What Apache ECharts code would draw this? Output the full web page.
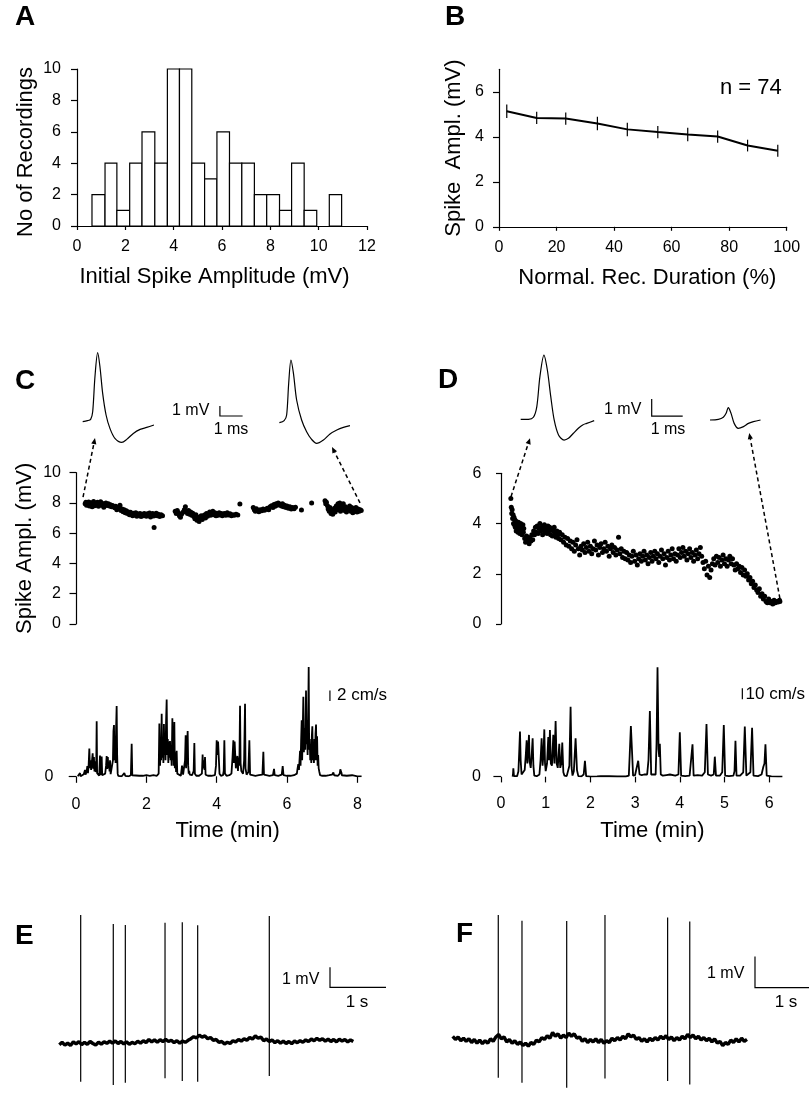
<!DOCTYPE html>
<html>
<head>
<meta charset="utf-8">
<title>Spike amplitude over recording time</title>
<script src="https://cdn.jsdelivr.net/npm/echarts@6.0.0/dist/echarts.min.js"></script>
<style>
html,body{margin:0;padding:0;background:#fff;}
#chart{width:812px;height:1109px;}
</style>
</head>
<body>
<div id="chart"></div>
<script>
const FONT = '"Liberation Sans", Arial, Helvetica, sans-serif';

// A - histogram of initial spike amplitude (bin edges in mV, counts)
const histEdges = [0.62,1.16,1.65,2.18,2.69,3.22,3.74,4.24,4.75,5.28,5.79,6.31,6.82,7.34,7.85,8.38,8.88,9.40,9.92,10.44,10.95];
const histCounts = [2,4,1,4,6,4,10,10,4,3,6,4,4,2,2,1,4,1,0,2];
const histXTicks = [0,2,4,6,8,10,12];
const histYTicks = [0,2,4,6,8,10];

// B - mean spike amplitude vs normalised recording duration
const durPct = [2.7,13.1,23.2,34.2,44.6,55.2,65.6,76.0,86.4,96.9];
const ampMean = [5.14,4.84,4.81,4.59,4.33,4.21,4.10,4.01,3.61,3.38];
const ampErr = [0.30,0.27,0.27,0.30,0.30,0.27,0.30,0.27,0.26,0.27];
const durTicks = [0,20,40,60,80,100];
const ampTicks = [0,2,4,6];

// C - waveforms (ms, mV)
const cSpikeEarly = [[0,0],[0.21,0.1],[0.35,0.23],[0.44,1.0],[0.54,4.5],[0.66,6.9],[0.76,5.5],[0.88,2.83],[1.03,0.67],[1.2,-0.67],[1.42,-1.67],[1.72,-2.07],[1.94,-1.77],[2.23,-1.17],[2.53,-0.77],[2.82,-0.57],[3.14,-0.33]];
const cSpikeLate = [[0,0],[0.21,0.2],[0.32,0.77],[0.41,3.93],[0.51,6.27],[0.62,4.93],[0.76,2.27],[0.98,0.27],[1.2,-0.9],[1.42,-1.67],[1.64,-2.07],[1.94,-1.73],[2.23,-1.13],[2.53,-0.73],[2.82,-0.47],[3.11,-0.3]];

// C - spike amplitude over time (min, mV)
const cAmp = [
[0.26,7.95],[0.28,8.05],[0.30,7.85],[0.32,7.98],[0.34,7.9],[0.36,8.06],[0.38,7.8],[0.40,7.95],[0.42,8.02],[0.44,7.88],[0.46,7.75],[0.48,7.93],[0.50,8.1],[0.53,7.82],[0.56,7.96],[0.58,7.87],[0.61,8.05],[0.64,7.78],[0.67,7.92],[0.70,8.08],[0.73,7.85],[0.76,7.97],[0.79,7.72],[0.82,7.9],[0.85,8.0],[0.88,7.83],[0.92,7.94],[0.95,7.8],[0.98,7.88],[1.01,7.75],[1.04,7.84],
[1.10,7.68],[1.13,7.78],[1.16,7.55],[1.19,7.7],[1.22,7.62],[1.25,7.85],[1.28,7.5],[1.31,7.6],[1.34,7.42],[1.37,7.55],[1.40,7.35],[1.43,7.48],[1.46,7.3],[1.49,7.4],[1.52,7.22],[1.55,7.38],[1.58,7.28],[1.61,7.15],[1.64,7.32],[1.67,7.2],[1.70,7.35],[1.73,7.12],[1.76,7.27],[1.79,7.18],[1.82,7.3],[1.85,7.1],[1.88,7.25],[1.91,7.16],[1.94,7.3],[1.97,7.2],[2.0,7.12],[2.03,7.28],[2.06,7.18],[2.09,7.34],[2.12,7.08],[2.15,7.22],[2.18,7.3],[2.21,7.14],[2.22,6.37],[2.25,7.2],[2.28,7.32],[2.31,7.15],[2.34,7.25],[2.38,7.1],[2.42,7.22],[2.46,7.15],
[2.82,7.45],[2.85,7.3],[2.88,7.5],[2.91,7.35],[2.94,7.15],[2.97,7.05],[3.0,7.25],[3.04,7.38],[3.08,7.55],[3.11,7.75],[3.14,7.45],[3.17,7.3],[3.2,7.5],[3.23,7.25],[3.26,7.4],[3.29,7.18],[3.32,7.32],[3.35,7.1],[3.38,6.95],[3.41,7.22],[3.44,6.85],[3.47,7.05],[3.5,6.78],[3.53,7.0],[3.56,7.15],[3.59,6.9],[3.62,7.08],[3.65,7.2],[3.68,7.0],[3.71,7.3],[3.74,7.12],[3.77,7.25],[3.8,7.4],[3.83,7.18],[3.86,7.3],[3.89,7.45],[3.92,7.22],[3.95,7.35],[3.98,7.15],[4.01,7.28],[4.04,7.18],[4.07,7.35],[4.1,7.22],[4.13,7.3],[4.16,7.15],[4.19,7.25],[4.22,7.3],[4.26,7.18],[4.3,7.35],[4.34,7.2],[4.38,7.28],[4.42,7.15],[4.46,7.22],[4.5,7.18],[4.55,7.25],[4.6,7.2],
[4.66,7.93],
[5.04,7.7],[5.07,7.55],[5.1,7.45],[5.13,7.62],[5.16,7.5],[5.2,7.42],[5.24,7.55],[5.28,7.48],[5.32,7.6],[5.36,7.52],[5.4,7.58],[5.44,7.65],[5.48,7.55],[5.52,7.75],[5.56,7.82],[5.6,7.7],[5.63,7.9],[5.66,7.78],[5.69,7.95],[5.72,7.85],[5.75,8.0],[5.78,7.88],[5.81,7.92],[5.84,7.8],[5.87,7.95],[5.9,7.75],[5.93,7.85],[5.97,7.7],[6.0,7.8],[6.04,7.65],[6.08,7.75],[6.12,7.6],[6.16,7.7],[6.2,7.62],[6.24,7.72],
[6.41,7.53],[6.70,8.0],
[7.08,8.15],[7.1,7.95],[7.12,8.05],[7.15,7.82],[7.17,7.6],[7.2,7.45],[7.22,7.7],[7.25,7.3],[7.27,7.55],[7.3,7.25],[7.32,7.5],[7.35,7.65],[7.37,7.4],[7.4,7.8],[7.42,7.55],[7.45,7.95],[7.47,7.7],[7.5,8.0],[7.52,7.45],[7.55,7.85],[7.57,7.6],[7.6,7.95],[7.63,7.5],[7.66,7.75],[7.69,7.4],[7.72,7.65],[7.75,7.55],[7.78,7.8],[7.81,7.45],[7.84,7.7],[7.87,7.35],[7.9,7.6],[7.93,7.5],[7.96,7.7],[7.99,7.4],[8.02,7.6],[8.05,7.45],[8.08,7.55],[8.11,7.5]
];
const cAmpTicks = [0,2,4,6,8,10];
// dashed arrows: from point to waveform [t0, mV0, t1, mV1]
const cArrows = [[0.2,8.39,0.54,12.29],[8.075,8.0,7.28,11.7]];

// C - running speed (min, cm/s)
const cSpeed = [
[0.05,0],[0.10,0.1],[0.114,0.6],[0.13,0],[0.18,0.1],[0.22,0.4],[0.24,0.2],[0.256,1.2],[0.27,0.3],[0.30,0.8],[0.322,1.9],[0.34,0.6],[0.36,2.2],[0.379,5.2],[0.395,1.5],[0.41,3.0],[0.43,1.2],[0.45,2.6],[0.474,4.3],[0.49,1.4],[0.51,3.6],[0.525,0.9],[0.545,2.8],[0.56,0.8],[0.575,1.5],[0.588,10.3],[0.60,0.6],[0.63,0.3],[0.66,0.1],[0.682,3.9],[0.70,0.2],[0.715,0.1],[0.73,3.7],[0.745,0.2],[0.79,0.1],[0.83,0.5],[0.855,2.0],[0.872,3.8],[0.89,1.4],[0.905,3.6],[0.92,1.6],[0.94,2.2],[0.955,0.9],[0.967,3.0],[0.985,0.4],[1.0,0.1],[1.03,0.3],[1.05,3.0],[1.065,8.5],[1.08,9.6],[1.095,3.0],[1.11,7.5],[1.125,2.5],[1.14,9.0],[1.156,13.2],[1.17,4.0],[1.185,0.5],[1.2,0.1],[1.3,0.0],[1.35,0.2],[1.374,0.6],[1.40,0.1],[1.5,0],[1.56,0.2],[1.583,6.1],[1.60,0.2],[1.65,0.1],[1.8,0.1],[1.85,0.3],[1.9,0.1],[2.0,0.2],[2.1,0.1],[2.2,0.2],[2.3,0.1],[2.35,0.5],[2.37,9.9],[2.39,2.0],[2.405,5.5],[2.42,3.0],[2.436,11.75],[2.45,3.5],[2.47,6.0],[2.485,2.5],[2.50,9.8],[2.515,4.0],[2.53,7.5],[2.545,3.0],[2.56,10.0],[2.578,14.4],[2.595,4.0],[2.61,7.0],[2.625,2.5],[2.64,6.5],[2.655,3.5],[2.673,6.6],[2.69,3.0],[2.705,5.0],[2.72,2.0],[2.74,10.9],[2.755,3.0],[2.77,6.5],[2.78,2.0],[2.796,10.2],[2.81,1.5],[2.83,4.5],[2.845,0.8],[2.862,4.8],[2.88,0.5],[2.92,0.2],[2.98,0.1],[3.0,0.3],[3.015,2.0],[3.03,1.9],[3.045,0.3],[3.08,0.5],[3.10,3.0],[3.118,7.7],[3.13,1.5],[3.15,4.0],[3.175,8.5],[3.19,2.0],[3.205,0.5],[3.22,1.0],[3.235,0.3],[3.30,0.2],[3.345,1.0],[3.365,6.25],[3.38,0.5],[3.42,0.1],[3.5,0.1],[3.58,0.5],[3.60,4.1],[3.615,1.5],[3.635,3.0],[3.655,1.2],[3.668,3.6],[3.685,0.3],[3.75,0.1],[3.85,0.1],[3.95,0.2],[3.98,2.0],[4.0,6.75],[4.02,4.0],[4.04,6.5],[4.066,6.6],[4.08,0.5],[4.12,0.1],[4.18,0.2],[4.2,1.0],[4.218,6.75],[4.235,0.5],[4.28,0.1],[4.36,0.2],[4.42,0.5],[4.45,3.5],[4.474,6.75],[4.49,2.5],[4.51,6.5],[4.53,6.7],[4.545,1.5],[4.565,3.0],[4.588,3.8],[4.605,1.0],[4.625,3.5],[4.645,2.0],[4.664,13.25],[4.68,2.5],[4.70,1.0],[4.72,0.8],[4.75,0.5],[4.78,3.0],[4.806,13.6],[4.82,1.5],[4.85,0.3],[4.90,0.8],[4.929,6.75],[4.95,0.3],[5.0,0.1],[5.1,0.1],[5.2,0.2],[5.3,0.3],[5.327,4.6],[5.345,0.3],[5.4,0.1],[5.5,0.1],[5.6,0.2],[5.63,1.4],[5.65,0.2],[5.75,0.1],[5.85,0.3],[5.877,1.9],[5.9,0.2],[6.0,0.1],[6.1,0.1],[6.2,0.2],[6.28,0.5],[6.3,1.5],[6.32,2.3],[6.34,1.2],[6.37,4.8],[6.385,2.0],[6.40,6.5],[6.417,10.5],[6.43,3.0],[6.445,8.0],[6.464,14.9],[6.48,4.5],[6.5,9.0],[6.52,5.0],[6.54,16.1],[6.555,6.0],[6.57,10.5],[6.585,4.0],[6.6,10.0],[6.616,20.5],[6.63,5.0],[6.645,7.0],[6.66,3.0],[6.675,6.0],[6.69,2.5],[6.705,7.5],[6.72,9.4],[6.735,3.0],[6.75,6.0],[6.765,2.5],[6.78,7.0],[6.795,3.0],[6.81,8.0],[6.825,9.7],[6.84,3.0],[6.855,7.5],[6.87,2.0],[6.885,4.0],[6.90,1.5],[6.92,0.8],[6.94,0.2],[7.0,0.1],[7.1,0.1],[7.2,0.2],[7.28,0.3],[7.3,0.6],[7.318,0.7],[7.34,0.2],[7.45,0.1],[7.5,0.5],[7.515,1.3],[7.53,1.2],[7.55,0.6],[7.56,0.2],[7.7,0.1],[7.85,0.2],[7.867,0.4],[7.88,0.1],[8.0,0.0],[8.12,0.0]
];
const cTimeTicks = [0,2,4,6,8];

// D - waveforms (ms, mV)
const dSpikeEarly = [[0,0],[0.25,0],[0.41,0.12],[0.52,0.75],[0.62,2.51],[0.75,3.78],[0.86,2.9],[0.97,1.33],[1.08,-0.04],[1.22,-0.92],[1.40,-1.22],[1.54,-1.12],[1.70,-0.82],[1.86,-0.53],[2.0,-0.33],[2.13,-0.24],[2.37,-0.08]];
const dSpikeLate = [[0,0],[0.27,0.04],[0.43,0.16],[0.52,0.39],[0.59,0.73],[0.68,0.39],[0.78,-0.2],[0.91,-0.49],[1.08,-0.39],[1.24,-0.2],[1.4,-0.1],[1.63,0]];

// D - spike amplitude over time (min, mV)
const dAmp = [
[0.22,5.0],[0.23,4.65],[0.24,4.4],[0.25,4.55],[0.26,4.2],[0.27,4.35],[0.28,4.0],[0.29,4.25],[0.30,3.95],[0.31,4.15],[0.32,3.85],[0.33,4.1],[0.34,3.7],[0.35,4.0],[0.36,3.8],[0.37,3.95],[0.38,3.65],[0.39,4.05],[0.40,3.75],[0.41,3.9],[0.42,3.6],[0.43,3.8],[0.44,4.0],[0.45,3.7],[0.46,3.85],[0.47,3.55],[0.48,3.75],[0.49,3.95],[0.50,3.65],[0.51,3.8],
[0.53,3.4],[0.55,3.25],[0.57,3.5],[0.59,3.3],[0.61,3.45],[0.63,3.2],[0.65,3.4],[0.67,3.3],[0.69,3.55],[0.71,3.35],
[0.73,3.7],[0.75,3.55],[0.77,3.85],[0.79,3.65],[0.81,3.9],[0.83,3.6],[0.85,3.8],[0.87,4.0],[0.89,3.7],[0.91,3.85],[0.93,3.55],[0.95,3.75],[0.97,3.95],[0.99,3.65],[1.01,3.8],[1.03,3.6],[1.05,3.9],[1.07,3.7],[1.09,3.85],[1.11,3.55],[1.13,3.75],[1.15,3.5],[1.17,3.7],[1.19,3.85],[1.21,3.6],[1.23,3.45],[1.25,3.7],[1.27,3.55],[1.29,3.4],[1.31,3.65],
[1.34,3.35],[1.37,3.55],[1.40,3.25],[1.43,3.45],[1.46,3.15],[1.49,3.4],[1.52,3.1],[1.55,3.3],[1.58,3.0],[1.61,3.25],[1.64,2.9],[1.67,3.15],[1.70,3.35],[1.73,3.0],[1.76,2.75],[1.79,3.1],[1.82,2.95],[1.85,3.2],[1.88,2.85],[1.91,3.05],
[1.94,3.25],[1.97,2.9],[2.0,3.1],[2.03,2.8],[2.06,3.0],[2.09,3.3],[2.12,2.95],[2.15,3.15],[2.18,2.75],[2.21,3.05],[2.24,3.2],[2.27,2.85],[2.30,3.0],[2.33,3.25],[2.36,2.9],[2.39,3.1],[2.42,2.7],[2.45,3.0],[2.48,3.15],[2.51,2.85],[2.54,3.05],[2.57,2.75],[2.60,2.95],[2.63,3.45],[2.66,2.8],[2.69,3.0],[2.72,2.65],[2.75,2.9],[2.78,2.6],
[2.81,2.85],[2.84,2.55],[2.87,2.75],[2.90,2.45],[2.93,2.7],[2.96,2.9],[2.99,2.5],[3.02,2.75],[3.05,2.35],[3.08,2.6],[3.11,2.8],[3.14,2.5],[3.17,2.7],[3.20,2.9],[3.23,2.55],[3.26,2.75],[3.29,2.4],[3.32,2.65],[3.35,2.85],[3.38,2.5],[3.41,2.7],[3.44,2.9],[3.47,2.6],[3.50,2.8],[3.53,2.45],[3.56,2.7],[3.59,2.95],[3.62,2.6],[3.65,2.8],[3.68,2.35],[3.71,2.65],[3.74,2.9],[3.77,2.55],[3.80,2.75],[3.83,3.0],[3.86,2.6],[3.89,2.8],[3.92,2.5],
[3.95,2.75],[3.98,3.0],[4.01,2.65],[4.04,2.85],[4.07,3.05],[4.10,2.7],[4.13,2.9],[4.16,2.55],[4.19,2.8],[4.22,3.0],[4.25,2.65],[4.28,2.85],[4.31,2.5],[4.34,2.75],[4.37,2.95],[4.40,2.6],[4.43,2.8],[4.46,3.05],[4.49,2.7],
[4.52,2.45],[4.55,2.2],[4.58,2.5],[4.61,1.95],[4.64,2.3],[4.67,1.85],[4.70,2.15],[4.73,2.4],
[4.76,2.6],[4.79,2.35],[4.82,2.7],[4.85,2.45],[4.88,2.65],[4.91,2.3],[4.94,2.55],[4.97,2.75],[5.0,2.4],[5.03,2.6],[5.06,2.3],[5.09,2.55],[5.12,2.7],[5.15,2.4],[5.18,2.6],
[5.21,2.35],[5.24,2.15],[5.27,2.4],[5.30,2.2],[5.33,2.3],[5.36,2.05],[5.39,2.25],[5.42,1.95],[5.45,2.15],[5.48,1.9],
[5.51,2.0],[5.54,1.75],[5.57,1.85],[5.60,1.6],[5.63,1.7],[5.66,1.45],[5.69,1.55],[5.72,1.35],[5.75,1.25],[5.78,1.4],
[5.81,1.1],[5.84,1.2],[5.87,1.0],[5.90,1.1],[5.93,0.9],[5.96,0.85],[5.99,1.0],[6.02,0.85],[6.05,0.9],[6.08,0.8],[6.11,0.95],[6.14,0.85],[6.17,0.9],[6.20,0.88],[6.23,0.95],[6.24,0.9]
];
const dAmpTicks = [0,2,4,6];
const dArrows = [[0.224,5.07,0.649,7.4],[6.24,1.02,5.555,7.6]];

// D - running speed (min, cm/s)
const dSpeed = [
[0.26,0],[0.268,2],[0.276,7.6],[0.29,0.5],[0.36,0.5],[0.39,5],[0.41,25],[0.425,41],[0.44,15],[0.46,2],[0.50,1],[0.53,6],[0.555,20],[0.574,33],[0.59,12],[0.61,25],[0.626,38],[0.64,14],[0.665,8],[0.69,22],[0.708,35],[0.725,10],[0.745,1],[0.80,0.5],[0.86,2],[0.885,15],[0.909,35],[0.93,10],[0.95,20],[0.969,43],[0.985,12],[1.0,5],[1.03,12],[1.058,36],[1.075,15],[1.095,42.4],[1.115,12],[1.14,10],[1.17,38],[1.195,12],[1.222,50.6],[1.245,12],[1.27,8],[1.304,30],[1.325,8],[1.35,12],[1.371,31],[1.395,4],[1.42,1],[1.47,0.5],[1.50,1],[1.53,10],[1.557,63.6],[1.58,8],[1.60,1],[1.63,5],[1.669,35],[1.70,6],[1.73,0.5],[1.80,0.3],[1.85,2],[1.878,14.5],[1.905,0.5],[2.0,0],[2.15,0.3],[2.23,0.5],[2.25,1.2],[2.27,0.3],[2.42,0.4],[2.437,1.2],[2.455,0.3],[2.6,0.2],[2.8,0.2],[2.86,1],[2.88,20],[2.906,46],[2.935,20],[2.955,1],[3.0,1.5],[3.04,2],[3.07,14.5],[3.10,2],[3.15,1.5],[3.2,2],[3.27,2],[3.30,15],[3.331,59.7],[3.36,2],[3.40,1],[3.46,2],[3.48,30],[3.502,99.4],[3.525,25],[3.54,18],[3.554,30],[3.575,2],[3.62,1],[3.7,1.5],[3.78,2],[3.82,1],[3.9,1],[3.97,2],[4.001,40.3],[4.03,1],[4.12,0.5],[4.22,1],[4.26,2],[4.285,29.4],[4.31,1],[4.4,1.5],[4.5,1],[4.56,4],[4.598,47.9],[4.63,2],[4.7,1],[4.76,2],[4.784,18.2],[4.81,1],[4.9,1],[4.95,4],[4.985,47],[5.015,1],[5.1,0.5],[5.2,1],[5.225,5],[5.246,32.7],[5.27,1],[5.35,1],[5.42,4],[5.455,45.5],[5.49,1],[5.58,4],[5.618,44.5],[5.65,1],[5.75,0.5],[5.83,2],[5.87,9],[5.895,12],[5.917,29.4],[5.945,1],[6.05,0.3],[6.2,0],[6.296,0]
];
const dTimeTicks = [0,1,2,3,4,5,6];

// E, F - raw extracellular traces, sampled every 0.05 s (mV)
const E_DT = 0.05;
const eTrace = [-0.10,0.02,-0.12,-0.02,-0.14,0.04,-0.06,0.05,-0.10,0.02,-0.08,0.06,-0.04,-0.12,0.03,-0.07,0.05,-0.03,0.08,-0.02,0.09,-0.04,0.06,-0.06,0.04,-0.08,0.02,-0.05,0.07,-0.02,0.10,0.01,0.16,0.04,0.14,0.02,0.15,0.05,0.17,0.06,0.12,0.00,0.10,-0.02,0.08,0.02,0.12,0.20,0.30,0.24,0.38,0.28,0.34,0.20,0.26,0.12,0.16,0.02,0.06,-0.06,0.02,-0.04,0.10,0.04,0.16,0.08,0.20,0.12,0.26,0.18,0.34,0.22,0.28,0.10,0.18,0.06,0.14,0.00,0.10,-0.02,0.08,-0.04,0.06,-0.05,0.08,0.00,0.10,0.02,0.14,0.06,0.18,0.10,0.22,0.12,0.20,0.08,0.18,0.06,0.16,0.04,0.18,0.08,0.16,0.04,0.14,0.06];
// spikes: [time s, peak mV, trough mV]
const eSpikes = [[0.382,6.39,-1.95],[0.964,5.94,-2.12],[1.179,5.89,-2.0],[1.888,6.0,-1.78],[2.196,6.02,-1.92],[2.471,5.87,-1.95],[3.75,6.34,-1.67]];

const F_DT = 0.05;
const fTrace = [0.12,0.02,0.10,-0.02,0.06,-0.04,0.04,-0.08,0.02,-0.10,0.00,-0.12,-0.02,-0.10,0.04,-0.04,0.10,0.18,0.04,0.10,-0.06,0.02,-0.10,-0.02,-0.14,-0.06,-0.18,-0.10,-0.20,-0.08,-0.14,0.00,-0.06,0.08,0.02,0.14,0.06,0.24,0.12,0.20,0.06,0.16,0.08,0.22,0.12,0.20,0.06,0.10,-0.04,0.04,-0.08,0.02,-0.06,0.04,-0.08,0.02,-0.10,-0.02,-0.08,0.06,-0.02,0.08,0.00,0.12,0.04,0.20,0.10,0.16,0.02,0.08,-0.04,0.04,-0.06,0.06,-0.02,0.08,0.00,0.12,0.04,0.14,0.02,0.10,-0.02,0.08,0.00,0.12,0.04,0.18,0.08,0.16,0.04,0.12,0.00,0.08,-0.02,0.06,-0.06,0.04,-0.10,-0.04,-0.18,-0.08,-0.14,0.00,-0.08,0.04,-0.06,0.06,-0.04,0.02];
const fSpikes = [[0.844,4.03,-1.22],[1.283,3.85,-1.38],[2.111,3.84,-1.54],[2.82,4.03,-1.24],[3.98,3.95,-1.32],[4.39,3.82,-1.43]];

const BLACK = '#000';

function axis(grid, min, max, o) {
  o = o || {};
  if (o.hidden) {
    return { type: 'value', gridIndex: grid, min: min, max: max, show: false, splitLine: { show: false } };
  }
  return {
    type: 'value', gridIndex: grid, min: min, max: max,
    offset: o.offset || 0,
    axisLine: { show: o.line !== false, lineStyle: { color: BLACK, width: 1.2 } },
    axisTick: { show: true, length: o.tick || 6, customValues: o.ticks, lineStyle: { color: BLACK, width: 1.2 } },
    axisLabel: { show: true, customValues: o.ticks, margin: o.margin, color: BLACK, fontSize: 16, fontFamily: FONT },
    splitLine: { show: false },
    name: o.name, nameLocation: 'middle', nameGap: o.nameGap,
    nameMoveOverlap: false,
    nameTextStyle: { color: BLACK, fontSize: 22, fontFamily: FONT, padding: o.namePad || 0 }
  };
}

function histRender(params, api) {
  const c = api.value(2);
  if (!c) return null;
  const p0 = api.coord([api.value(0), c]);
  const p1 = api.coord([api.value(1), 0]);
  return { type: 'rect', shape: { x: p0[0], y: p0[1], width: p1[0] - p0[0], height: p1[1] - p0[1] },
    style: { fill: '#fff', stroke: BLACK, lineWidth: 1.2 } };
}

function errRender(params, api) {
  const x = api.value(0), y = api.value(1), e = api.value(2);
  const a = api.coord([x, y - e]), b = api.coord([x, y + e]);
  return { type: 'line', shape: { x1: a[0], y1: a[1], x2: b[0], y2: b[1] }, style: { stroke: BLACK, lineWidth: 1.2 } };
}

// scale bar: [x, y, dx, dy] drawn as vertical then horizontal leg
function barRender(params, api) {
  const x = api.value(0), y = api.value(1), dx = api.value(2), dy = api.value(3);
  const pts = [api.coord([x, y + dy]), api.coord([x, y])];
  if (dx) pts.push(api.coord([x + dx, y]));
  return { type: 'polyline', shape: { points: pts }, style: { stroke: BLACK, lineWidth: 1.2, fill: null } };
}

function spikeRender(params, api) {
  const t = api.value(0);
  const a = api.coord([t, api.value(1)]), b = api.coord([t, api.value(2)]);
  return { type: 'line', shape: { x1: a[0], y1: a[1], x2: b[0], y2: b[1] }, style: { stroke: BLACK, lineWidth: 1.2 } };
}

function arrowRender(params, api) {
  const a = api.coord([api.value(0), api.value(1)]);
  const b = api.coord([api.value(2), api.value(3)]);
  const dx = b[0] - a[0], dy = b[1] - a[1], len = Math.hypot(dx, dy);
  const ux = dx / len, uy = dy / len;
  const head = 6, half = 2.6;
  const base = [b[0] - ux * head, b[1] - uy * head];
  return { type: 'group', children: [
    { type: 'line', shape: { x1: a[0], y1: a[1], x2: base[0], y2: base[1] }, style: { stroke: BLACK, lineWidth: 1.5, lineDash: [4, 3] } },
    { type: 'polygon', shape: { points: [b, [base[0] - uy * half, base[1] + ux * half], [base[0] + uy * half, base[1] - ux * half]] }, style: { fill: BLACK } }
  ] };
}

function wave(xi, pts, off, width) {
  return { type: 'line', xAxisIndex: xi, yAxisIndex: xi, data: pts.map(p => [p[0] + off[0], p[1] + off[1]]),
    symbol: 'none', smooth: 0.3, silent: true, lineStyle: { color: BLACK, width: width || 1.2 } };
}

function trace(xi, pts, width) {
  return { type: 'line', xAxisIndex: xi, yAxisIndex: xi, data: pts, symbol: 'none', silent: true,
    lineStyle: { color: BLACK, width: width } };
}

function dots(xi, pts) {
  return { type: 'scatter', xAxisIndex: xi, yAxisIndex: xi, data: pts, symbol: 'circle', symbolSize: 5, silent: true,
    itemStyle: { color: BLACK, opacity: 1, borderWidth: 0 } };
}

function custom(xi, data, render) {
  return { type: 'custom', xAxisIndex: xi, yAxisIndex: xi, data: data, renderItem: render, silent: true };
}

function txt(s, x, y, size, align, bold) {
  return { type: 'text', x: x, y: y, silent: true,
    style: { text: s, fill: BLACK, font: (bold ? 'bold ' : '') + size + 'px ' + FONT,
      textAlign: align, align: align, textVerticalAlign: 'middle', verticalAlign: 'middle' } };
}

const grids = [
  { left: 77, top: 69, width: 290, height: 157 },        // 0 A
  { left: 499, top: 69.3, width: 287.7, height: 157.5 }, // 1 B
  { left: 76, top: 340, width: 286, height: 110 },       // 2 C waveforms
  { left: 76, top: 472.7, width: 288.4, height: 151.3 }, // 3 C amplitude
  { left: 76, top: 659, width: 288.4, height: 117.3 },   // 4 C speed
  { left: 501, top: 340, width: 311, height: 110 },      // 5 D waveforms
  { left: 501, top: 473.3, width: 283.8, height: 150.7 },// 6 D amplitude
  { left: 501, top: 661.2, width: 283.8, height: 115.5 },// 7 D speed
  { left: 59.3, top: 898.7, width: 296.8, height: 200 }, // 8 E
  { left: 452.7, top: 900.5, width: 297, height: 200 }   // 9 F
].map(g => Object.assign({ outerBoundsMode: 'none', containLabel: false }, g));

const xAxes = [
  axis(0, 0, 12, { ticks: histXTicks, offset: 2, tick: 4, margin: 11, name: 'Initial Spike Amplitude (mV)', nameGap: 38, namePad: [0, 15, 0, 0] }),
  axis(1, 0, 100, { ticks: durTicks, offset: 2, tick: 4, margin: 11, name: 'Normal. Rec. Duration (%)', nameGap: 38, namePad: [0, 0, 0, 9] }),
  axis(2, 0, 12.6, { hidden: true }),
  axis(3, 0, 8.2, { hidden: true }),
  axis(4, 0, 8.2, { ticks: cTimeTicks, line: false, offset: 7, tick: 6.5, margin: 13, name: 'Time (min)', nameGap: 37, namePad: [0, 0, 0, 15] }),
  axis(5, 0, 10.03, { hidden: true }),
  axis(6, 0, 6.35, { hidden: true }),
  axis(7, 0, 6.35, { ticks: dTimeTicks, line: false, offset: 6, tick: 5.7, margin: 13, name: 'Time (min)', nameGap: 37, namePad: [0, 0, 0, 19] }),
  axis(8, 0, 5.3, { hidden: true }),
  axis(9, 0, 5.5, { hidden: true })
];

const yAxes = [
  axis(0, 0, 10, { ticks: histYTicks, tick: 6, margin: 16, name: 'No of Recordings', nameGap: 40, namePad: [0, 9, 0, 0] }),
  axis(1, 0, 7, { ticks: ampTicks, tick: 6, margin: 15, name: 'Spike  Ampl. (mV)', nameGap: 34 }),
  axis(2, -2.83, 8.17, { hidden: true }),
  axis(3, 0, 10, { ticks: cAmpTicks, tick: 6.5, margin: 15, name: 'Spike Ampl. (mV)', nameGap: 40 }),
  axis(4, 0, 22, { ticks: [0], line: false, offset: 2, tick: 7.3, margin: 20.5 }),
  axis(5, -1.806, 4.665, { hidden: true }),
  axis(6, 0, 6, { ticks: dAmpTicks, offset: 1.5, tick: 5, margin: 18 }),
  axis(7, 0, 105, { ticks: [0], line: false, offset: 1.7, tick: 7.6, margin: 18.3 }),
  axis(8, -2.8, 7.2, { hidden: true }),
  axis(9, -1.95, 4.5, { hidden: true })
];

const series = [
  custom(0, histCounts.map((c, i) => [histEdges[i], histEdges[i + 1], c]), histRender),
  trace(1, durPct.map((x, i) => [x, ampMean[i]]), 2),
  custom(1, durPct.map((x, i) => [x, ampMean[i], ampErr[i]]), errRender),

  wave(2, cSpikeEarly, [0.295, 0]),
  wave(2, cSpikeLate, [8.96, -0.1]),
  custom(2, [[6.34, 0.57, 1, 1]], barRender),
  dots(3, cAmp),
  custom(3, cArrows, arrowRender),
  trace(4, cSpeed, 1.8),
  custom(4, [[7.22, 14.1, 0, 2]], barRender),

  wave(5, dSpikeEarly, [0.635, 0]),
  wave(5, dSpikeLate, [6.74, -0.04]),
  custom(5, [[4.86, 0.19, 1, 1]], barRender),
  dots(6, dAmp),
  custom(6, dArrows, arrowRender),
  trace(7, dSpeed, 1.8),
  custom(7, [[5.4, 70.4, 0, 10]], barRender),

  trace(8, eTrace.map((v, i) => [i * E_DT, v]), 3.4),
  custom(8, eSpikes, spikeRender),
  custom(8, [[4.834, 2.77, 1, 1]], barRender),

  trace(9, fTrace.map((v, i) => [i * F_DT, v]), 3.4),
  custom(9, fSpikes, spikeRender),
  custom(9, [[5.598, 1.69, 1, 1]], barRender)
];

const graphics = [
  txt('A', 15, 17, 28, 'left', true),
  txt('B', 445, 17, 28, 'left', true),
  txt('C', 15, 381, 28, 'left', true),
  txt('D', 438, 380, 28, 'left', true),
  txt('E', 15, 936, 28, 'left', true),
  txt('F', 456, 934, 28, 'left', true),
  txt('n = 74', 720, 88, 22, 'left'),
  txt('1 mV', 172, 411, 16, 'left'),
  txt('1 ms', 231, 430, 16, 'center'),
  txt('1 mV', 604, 410, 16, 'left'),
  txt('1 ms', 668, 430, 16, 'center'),
  txt('2 cm/s', 337, 695, 17, 'left'),
  txt('10 cm/s', 745.5, 694, 17, 'left'),
  txt('1 mV', 282, 980, 16, 'left'),
  txt('1 s', 357, 1002.5, 17, 'center'),
  txt('1 mV', 707, 974, 16, 'left'),
  txt('1 s', 786, 1002.5, 17, 'center')
];

const chart = echarts.init(document.getElementById('chart'), null, { renderer: 'canvas' });
chart.setOption({
  animation: false,
  backgroundColor: '#fff',
  textStyle: { fontFamily: FONT, color: BLACK },
  grid: grids,
  xAxis: xAxes,
  yAxis: yAxes,
  series: series,
  graphic: graphics
});
</script>
</body>
</html>
